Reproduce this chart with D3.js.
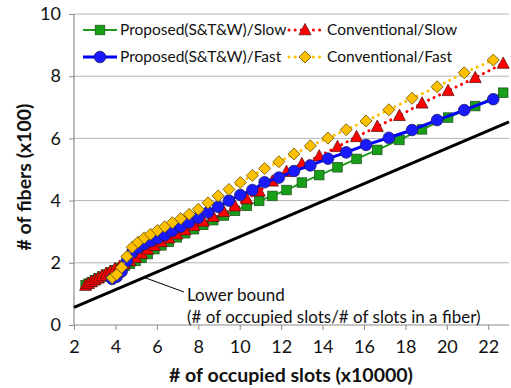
<!DOCTYPE html>
<html>
<head>
<meta charset="utf-8">
<script src="https://cdn.jsdelivr.net/npm/d3@7/dist/d3.min.js"></script>
<style>
  html, body { margin: 0; padding: 0; background: #fff; }
  svg { display: block; font-family: Lato, "Open Sans", sans-serif; }
</style>
</head>
<body>
<svg id="chart" width="511" height="388"></svg>
<script>
// ---- data ----
const xTicks = [2, 4, 6, 8, 10, 12, 14, 16, 18, 20, 22];
const yTicks = [0, 2, 4, 6, 8, 10];

const slowX = [2.56, 2.70, 2.85, 3.01, 3.18, 3.36, 3.55, 3.75, 3.97, 4.20, 4.44, 4.70, 4.97, 5.26, 5.56, 5.88, 6.22, 6.58, 6.96, 7.36, 7.79, 8.24, 8.72, 9.23, 9.77, 10.34, 10.94, 11.58, 12.26, 13.00, 13.84, 14.72, 15.64, 16.64, 17.71, 18.80, 20.06, 21.37, 22.72];
const proposedSlow = [1.28, 1.33, 1.38, 1.44, 1.50, 1.56, 1.62, 1.69, 1.76, 1.84, 1.90, 1.97, 2.06, 2.16, 2.28, 2.44, 2.56, 2.68, 2.82, 2.95, 3.08, 3.22, 3.37, 3.52, 3.67, 3.83, 3.99, 4.15, 4.34, 4.58, 4.82, 5.07, 5.34, 5.63, 5.95, 6.29, 6.67, 7.04, 7.47];
const conventionalSlow = [1.27, 1.33, 1.39, 1.45, 1.51, 1.58, 1.65, 1.72, 1.80, 1.88, 1.96, 2.06, 2.17, 2.30, 2.43, 2.55, 2.67, 2.79, 2.92, 3.05, 3.19, 3.33, 3.48, 3.64, 3.82, 4.05, 4.30, 4.62, 4.93, 5.18, 5.43, 5.73, 6.05, 6.38, 6.73, 7.13, 7.53, 7.95, 8.41];

const fastX = [3.84, 4.06, 4.30, 4.55, 4.81, 5.09, 5.39, 5.70, 6.03, 6.38, 6.75, 7.15, 7.56, 8.00, 8.47, 8.96, 9.48, 10.03, 10.61, 11.20, 11.89, 12.62, 13.41, 14.26, 15.14, 16.10, 17.20, 18.32, 19.53, 20.84, 22.24];
const proposedFast = [1.48, 1.55, 1.72, 2.05, 2.33, 2.48, 2.60, 2.70, 2.79, 2.89, 3.03, 3.16, 3.30, 3.45, 3.62, 3.80, 4.00, 4.18, 4.34, 4.59, 4.74, 4.95, 5.13, 5.35, 5.55, 5.79, 6.02, 6.27, 6.59, 6.91, 7.26];
const conventionalFast = [1.52, 1.62, 1.85, 2.20, 2.50, 2.66, 2.80, 2.92, 3.04, 3.16, 3.29, 3.42, 3.56, 3.72, 3.93, 4.15, 4.36, 4.58, 4.81, 5.03, 5.25, 5.50, 5.76, 6.01, 6.28, 6.56, 6.92, 7.29, 7.66, 8.11, 8.52];

const lowerBoundX = [2, 23];
const lowerBoundY = [0.57, 6.53];

const seriesNames = ["Proposed(S&T&W)/Slow", "Conventional/Slow", "Proposed(S&T&W)/Fast", "Conventional/Fast"];

// ---- layout ----
const svg = d3.select("#chart");
const x = d3.scaleLinear().domain([2, 23]).range([74, 509]);
const y = d3.scaleLinear().domain([0, 10]).range([325, 14]);

const series = [
  {name: seriesNames[0], xs: slowX, ys: proposedSlow, color: "#1f9a1f", fill: "#17a017", stroke: "#225522", lw: 2, dash: null, shape: "square"},
  {name: seriesNames[1], xs: slowX, ys: conventionalSlow, color: "#ff0000", fill: "#ff0000", stroke: "#661111", lw: 3, dash: "0.1,6", shape: "triangle"},
  {name: seriesNames[2], xs: fastX, ys: proposedFast, color: "#0000ff", fill: "#1a1aff", stroke: "#1a1a66", lw: 3, dash: null, shape: "circle"},
  {name: seriesNames[3], xs: fastX, ys: conventionalFast, color: "#ffc000", fill: "#ffc000", stroke: "#665000", lw: 3, dash: "0.1,6", shape: "diamond"}
];

// gridlines
svg.append("g").selectAll("line").data(yTicks.filter(d => d > 0)).join("line")
  .attr("x1", x(2)).attr("x2", x(23))
  .attr("y1", d => y(d)).attr("y2", d => y(d))
  .attr("stroke", "#b4b4b4").attr("stroke-width", 1);

// axes
const yAxis = d3.axisLeft(y).tickValues(yTicks).tickSize(5).tickPadding(8).tickFormat(d3.format("d"));
const gy = svg.append("g").attr("transform", `translate(${x(2)},0)`).call(yAxis);
const xAxis = d3.axisBottom(x).tickValues(xTicks).tickSize(5).tickPadding(10).tickFormat(d3.format("d"));
const gx = svg.append("g").attr("transform", `translate(0,${y(0)})`).call(xAxis);
[gx, gy].forEach(g => {
  g.select(".domain").attr("stroke", "#8c8c8c").attr("stroke-width", 1.2);
  g.selectAll(".tick line").attr("stroke", "#8c8c8c");
  g.selectAll(".tick text").attr("font-size", 18).attr("fill", "#111").attr("font-family", "Lato, sans-serif");
});
gy.select(".domain").attr("d", `M0,${y(10)}V${y(0)}`);
gx.select(".domain").attr("d", `M${x(2)},0H${x(23)}`);

// lower bound
const lb = lowerBoundX.map((v, i) => [v, lowerBoundY[i]]);
svg.append("path").datum(lb)
  .attr("d", d3.line().x(d => x(d[0])).y(d => y(d[1])))
  .attr("stroke", "#000").attr("stroke-width", 3).attr("fill", "none");

// marker drawing
function marker(g, shape) {
  if (shape === "square") return g.append("rect").attr("x", -4.75).attr("y", -4.75).attr("width", 9.5).attr("height", 9.5);
  if (shape === "circle") return g.append("circle").attr("r", 5.8);
  if (shape === "triangle") return g.append("path").attr("d", "M0,-6.5L6,4.8L-6,4.8Z");
  if (shape === "diamond") return g.append("path").attr("d", "M0,-6L6,0L0,6L-6,0Z");
}

series.forEach(s => {
  const pts = s.xs.map((v, i) => [v, s.ys[i]]);
  const p = svg.append("path").datum(pts)
    .attr("d", d3.line().x(d => x(d[0])).y(d => y(d[1])))
    .attr("fill", "none").attr("stroke", s.color).attr("stroke-width", s.lw);
  if (s.dash) p.attr("stroke-dasharray", s.dash).attr("stroke-linecap", "round");
  const g = svg.append("g");
  pts.forEach(d => {
    const m = marker(g.append("g").attr("transform", `translate(${x(d[0])},${y(d[1])})`), s.shape);
    m.attr("fill", s.fill).attr("stroke", s.stroke).attr("stroke-width", 0.8);
  });
});

// legend
const legendPos = [
  {lx1: 83, lx2: 117, mx: 100, tx: 120, cy: 30},
  {lx1: 289, lx2: 321, mx: 305, tx: 327, cy: 30},
  {lx1: 83, lx2: 117, mx: 100, tx: 120, cy: 57},
  {lx1: 289, lx2: 321, mx: 305, tx: 327, cy: 57}
];
series.forEach((s, i) => {
  const L = legendPos[i];
  const g = svg.append("g");
  const ln = g.append("line").attr("x1", L.lx1).attr("x2", L.lx2).attr("y1", L.cy).attr("y2", L.cy)
    .attr("stroke", s.color).attr("stroke-width", s.lw);
  if (s.dash) ln.attr("stroke-dasharray", s.dash).attr("stroke-linecap", "round");
  const m = marker(g.append("g").attr("transform", `translate(${L.mx},${L.cy})`), s.shape);
  m.attr("fill", s.fill).attr("stroke", s.stroke).attr("stroke-width", 0.8);
  g.append("text").attr("x", L.tx).attr("y", L.cy).attr("dy", "0.35em")
    .attr("font-size", 15.5).attr("fill", "#111").text(s.name);
});

// annotation
svg.append("line").attr("x1", 143).attr("y1", 277).attr("x2", 184).attr("y2", 292)
  .attr("stroke", "#000").attr("stroke-width", 1);
svg.append("text").attr("x", 187).attr("y", 301).attr("font-size", 17).attr("fill", "#111").text("Lower bound");
svg.append("text").attr("x", 187).attr("y", 323).attr("font-size", 17).attr("fill", "#111")
  .text("(# of occupied slots/# of slots in a fiber)");

// axis titles
svg.append("text").attr("x", 291).attr("y", 382).attr("text-anchor", "middle")
  .attr("font-size", 19.5).attr("font-weight", "bold").attr("fill", "#111").text("# of occupied slots (x10000)");
svg.append("text").attr("transform", "translate(31,177) rotate(-90)").attr("text-anchor", "middle")
  .attr("font-size", 19.5).attr("font-weight", "bold").attr("fill", "#111").text("# of fibers  (x100)");
</script>
</body>
</html>
